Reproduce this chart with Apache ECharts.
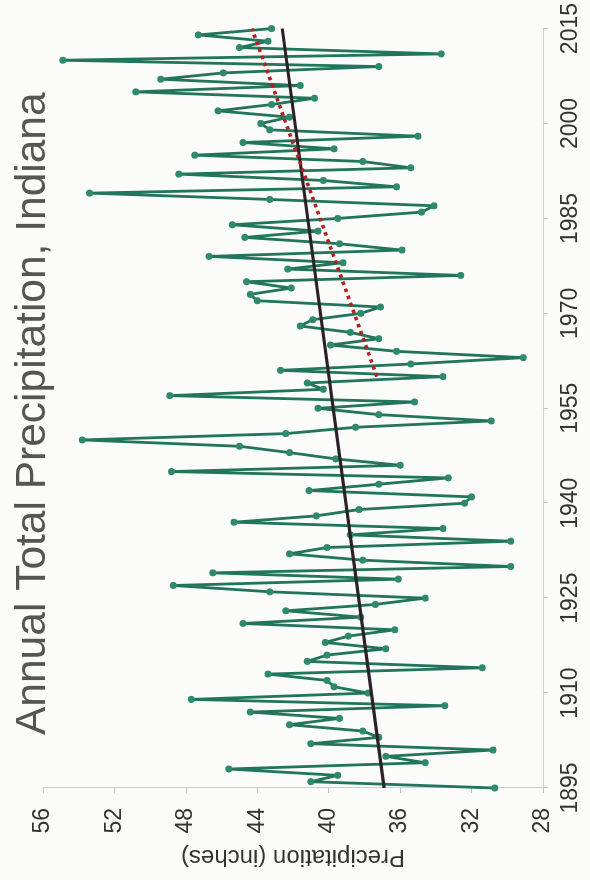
<!DOCTYPE html>
<html>
<head>
<meta charset="utf-8">
<script src="https://cdn.jsdelivr.net/npm/echarts@6/dist/echarts.min.js"></script>
<style>
  html, body { margin: 0; padding: 0; width: 590px; height: 880px; overflow: hidden; background: #fbfbfa; }
  #chart { position: absolute; left: 0; top: 0; width: 880px; height: 590px;
           transform-origin: 0 0; transform: translateY(880px) rotate(-90deg); }
</style>
</head>
<body>
<div id="chart"></div>
<script>
// ---- data ----
const startYear = 1895;
const precip = [
  30.7, 41.0, 39.5, 45.6, 34.6, 36.8, 30.8, 41.0, 37.2, 38.1,
  42.2, 39.4, 44.4, 33.5, 47.7, 37.8, 39.7, 40.1, 43.4, 31.4,
  41.2, 40.1, 36.8, 40.2, 38.9, 36.3, 44.8, 38.2, 42.4, 37.4,
  34.6, 43.3, 48.7, 36.1, 46.5, 29.8, 38.1, 42.2, 40.1, 29.8,
  38.8, 33.6, 45.3, 40.7, 38.3, 32.4, 32.0, 41.1, 37.2, 33.3,
  48.8, 36.0, 39.6, 42.2, 45.0, 53.8, 42.4, 38.5, 30.9, 37.2,
  40.6, 35.2, 48.9, 40.3, 41.2, 33.6, 42.7, 35.4, 29.1, 36.2,
  39.9, 37.2, 38.8, 41.6, 40.9, 38.2, 37.1, 44.0, 44.4, 42.1,
  44.6, 32.6, 42.3, 39.2, 46.7, 35.9, 39.4, 44.7, 40.6, 45.4,
  39.5, 34.8, 34.1, 43.3, 53.4, 36.2, 40.3, 48.4, 35.4, 38.1,
  47.5, 39.7, 44.8, 35.0, 43.3, 43.8, 42.2, 46.2, 43.2, 40.8,
  50.8, 41.6, 49.4, 45.9, 37.2, 54.9, 33.7, 45.0, 43.4, 47.3,
  43.2
];
const longTrend = [[1895, 36.9], [2015, 42.6]];
const recentTrend = [[1960, 37.3], [2015, 44.3]];
const yearTicks = [1895, 1910, 1925, 1940, 1955, 1970, 1985, 2000, 2015];
const precipTicks = [28, 32, 36, 40, 44, 48, 52, 56];

const seriesData = precip.map((v, i) => [startYear + i, v]);

const chart = echarts.init(document.getElementById('chart'), null, { renderer: 'canvas' });
const font = 'Liberation Sans, Arial, sans-serif';
chart.setOption({
  backgroundColor: '#fbfbfa',
  animation: false,
  title: {
    text: 'Annual Total Precipitation, Indiana',
    left: 140,
    top: 7,
    textStyle: { fontFamily: font, fontSize: 42.5, fontWeight: 'normal', color: '#555555' }
  },
  grid: { left: 92, right: 24, top: 43, bottom: 47 },
  xAxis: {
    type: 'value',
    min: yearTicks[0],
    max: yearTicks[yearTicks.length - 1],
    interval: 15,
    axisLine: { show: true, lineStyle: { color: '#cfcfcf', width: 1 } },
    axisTick: { show: true, length: 5, lineStyle: { color: '#c4c4c4' } },
    splitLine: { show: false },
    axisLabel: { margin: 16, fontFamily: font, fontSize: 23, color: '#333333',
                 formatter: v => String(v) }
  },
  yAxis: {
    type: 'value',
    min: precipTicks[0],
    max: precipTicks[precipTicks.length - 1],
    interval: 4,
    name: 'Precipitation (inches)',
    nameLocation: 'middle',
    nameGap: 56,
    nameTextStyle: { fontFamily: font, fontSize: 24, color: '#333333' },
    axisLine: { show: true, lineStyle: { color: '#cfcfcf', width: 1 } },
    axisTick: { show: true, length: 5, lineStyle: { color: '#c4c4c4' } },
    splitLine: { show: false },
    axisLabel: { margin: 20, fontFamily: font, fontSize: 23, color: '#333333' }
  },
  series: [
    {
      type: 'line',
      data: seriesData,
      symbol: 'circle',
      symbolSize: 7,
      lineStyle: { color: '#21755a', width: 2.8 },
      itemStyle: { color: '#2f8a6c' },
      z: 2
    },
    {
      type: 'line',
      data: longTrend,
      symbol: 'none',
      lineStyle: { color: '#2b2228', width: 3.2 },
      z: 4
    },
    {
      type: 'line',
      data: recentTrend,
      symbol: 'none',
      lineStyle: { color: '#b3201d', width: 3.6, type: [3.5, 4] },
      z: 5
    }
  ]
});
</script>
</body>
</html>
